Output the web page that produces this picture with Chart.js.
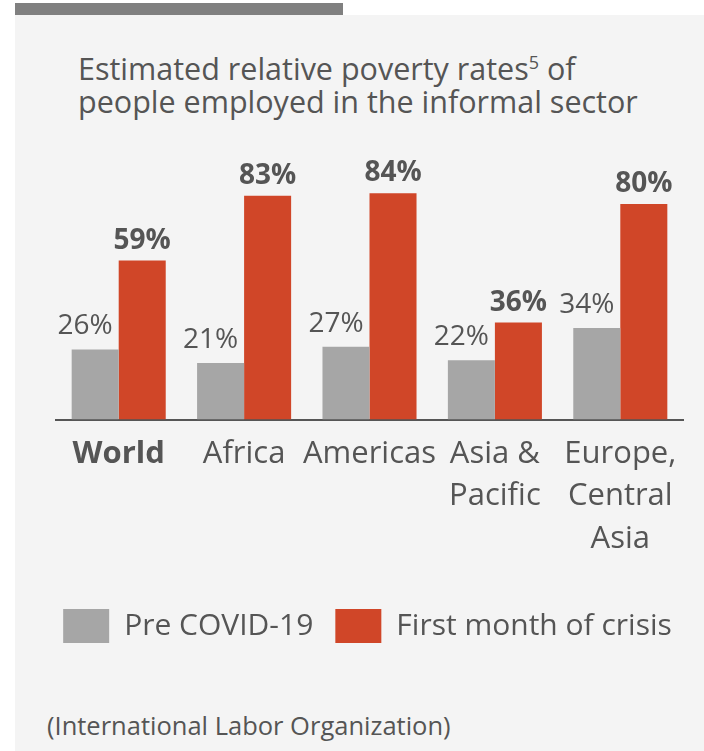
<!DOCTYPE html>
<html>
<head>
<meta charset="utf-8">
<script src="https://cdn.jsdelivr.net/npm/chart.js@4.4.1/dist/chart.umd.min.js"></script>
<style>
  html, body { margin: 0; padding: 0; background: #fff; }
  body { width: 704px; height: 751px; position: relative; overflow: hidden; font-family: "Open Sans", "Noto Sans", sans-serif; color: #555; }
  .topbar { position: absolute; left: 15px; top: 3px; width: 328px; height: 12px; background: #808080; }
  .panel { position: absolute; left: 15px; top: 15px; right: 0; bottom: 0; background: #f4f4f4; }
  .title { position: absolute; left: 78px; top: 52px; font-size: 30.5px; line-height: 33px; color: #555; white-space: nowrap; }
  .title sup { font-size: 18px; line-height: 0; vertical-align: 11px; }
  .source { position: absolute; left: 47px; top: 708px; font-size: 25.5px; color: #555; white-space: nowrap; }
  #wrap { position: absolute; left: 15px; top: 130px; width: 689px; height: 570px; }
</style>
</head>
<body>
<div class="topbar"></div>
<div class="panel"></div>
<div class="title">Estimated relative poverty rates<sup>5</sup> of<br>people employed in the informal sector</div>
<div id="wrap"><canvas id="chart"></canvas></div>
<div class="source">(International Labor Organization)</div>
<script>
const regions = [['World'], ['Africa'], ['Americas'], ['Asia &', 'Pacific'], ['Europe,', 'Central', 'Asia']];
const preCovid = [26, 21, 27, 22, 34];
const firstMonth = [59, 83, 84, 36, 80];

const GREY = '#a6a6a6';
const RED = '#d04628';
const TEXT = '#555555';
const FONT = '"Open Sans", "Noto Sans", sans-serif';

// percentage labels above each bar
const barLabels = {
  id: 'barLabels',
  afterDatasetsDraw(chart) {
    const ctx = chart.ctx;
    ctx.save();
    ctx.fillStyle = TEXT;
    ctx.textAlign = 'center';
    ctx.textBaseline = 'alphabetic';
    chart.data.datasets.forEach((ds, i) => {
      const meta = chart.getDatasetMeta(i);
      const bold = i === 1;
      ctx.font = (bold ? 'bold 28px ' : '28px ') + FONT;
      meta.data.forEach((bar, j) => {
        const dx = bold ? 0 : -10;
        const gap = bold ? 12 : 15;
        ctx.fillText(ds.data[j] + '%', bar.x + dx, bar.y - gap);
      });
    });
    ctx.restore();
  }
};

// invisible side axes that just reserve horizontal space
const spacer = (w) => ({
  ticks: { display: false },
  grid: { display: false },
  border: { display: false },
  afterFit(scale) { scale.width = w; }
});

const ctx = document.getElementById('chart').getContext('2d');

const chartGraph = new Chart(ctx, {
  type: 'bar',
  data: {
    labels: regions,
    datasets: [
      {
        label: 'Pre COVID-19',
        data: preCovid,
        backgroundColor: GREY,
        categoryPercentage: 0.75,
        barPercentage: 1
      },
      {
        label: 'First month of crisis',
        data: firstMonth,
        backgroundColor: RED,
        categoryPercentage: 0.75,
        barPercentage: 1
      }
    ]
  },
  options: {
    responsive: true,
    maintainAspectRatio: false,
    animation: false,
    layout: {
      padding: { left: 16, right: 0, top: 20, bottom: 47 }
    },
    scales: {
      x: {
        grid: { display: false },
        border: { display: true, color: TEXT, width: 2 },
        ticks: {
          color: TEXT,
          padding: 5,
          autoSkip: false,
          maxRotation: 0,
          minRotation: 0,
          font: (c) => ({
            family: FONT,
            size: 31,
            lineHeight: 1.37,
            weight: c.index === 0 ? 'bold' : 'normal'
          })
        },
        // room between the category names and the legend
        afterFit(scale) {
          scale.height += 22;
        }
      },
      y: Object.assign(spacer(25), { min: 0, max: 100 }),
      yRight: Object.assign(spacer(21), { position: 'right' })
    },
    plugins: {
      tooltip: { enabled: false },
      legend: {
        position: 'bottom',
        labels: {
          color: TEXT,
          boxWidth: 46,
          boxHeight: 34,
          padding: 22,
          font: { family: FONT, size: 30 }
        }
      }
    }
  },
  plugins: [barLabels]
});
</script>
</body>
</html>
